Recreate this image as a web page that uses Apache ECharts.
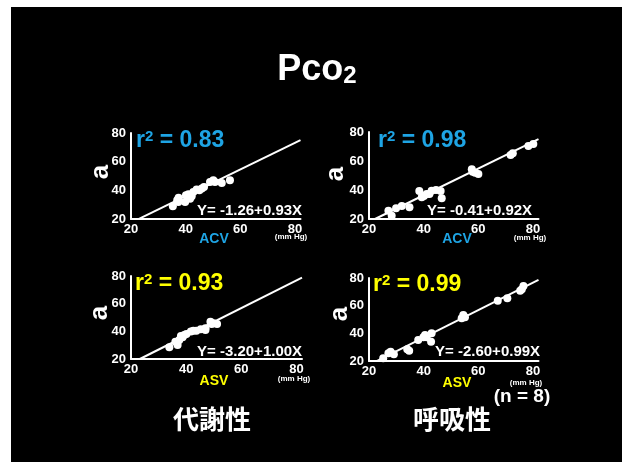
<!DOCTYPE html>
<html>
<head>
<meta charset="utf-8">
<script src="https://cdn.jsdelivr.net/npm/echarts@6/dist/echarts.min.js"></script>
<style>
  html, body { margin: 0; padding: 0; width: 622px; height: 462px; overflow: hidden; background: #fff; }
  #slide { position: absolute; left: 11px; top: 7px; right: 0; bottom: 0; background: #000; }
  #chart { position: absolute; left: 0; top: 0; width: 622px; height: 462px; }
</style>
</head>
<body>
<div id="slide"></div>
<div id="chart"></div>
<script>
// Pco2: arterial value (a) plotted against the ventilator-side reading, mm Hg.
// Panels: metabolic / respiratory cases, each measured on ACV and ASV.
const metabolicAcv = [
  [35.3, 28.9], [36.9, 33.0], [37.4, 34.9], [37.3, 31.9], [39.8, 31.9], [40.1, 36.5],
  [41.0, 37.2], [41.6, 34.2], [42.2, 35.8], [42.8, 38.8], [44.0, 40.5], [45.0, 40.0],
  [45.9, 41.2], [46.7, 42.3], [48.9, 45.8], [50.1, 47.0], [50.7, 45.8], [53.2, 45.1],
  [56.2, 47.0]
];
const respiratoryAcv = [
  [27.1, 25.7], [28.3, 22.3], [29.9, 27.4], [32.0, 29.0], [34.8, 28.1], [38.4, 39.3],
  [39.3, 35.0], [40.1, 35.9], [41.1, 37.2], [42.1, 37.2], [42.9, 39.5], [44.5, 40.0],
  [46.2, 39.3], [46.6, 34.3], [57.6, 54.3], [57.9, 52.6], [58.8, 51.9], [60.0, 51.0],
  [71.8, 64.1], [72.6, 65.3], [78.3, 70.3], [80.1, 71.7]
];
const metabolicAsv = [
  [33.9, 28.5], [36.1, 32.5], [36.9, 30.1], [37.5, 33.7], [38.1, 36.6], [38.7, 35.7],
  [39.3, 37.4], [40.1, 38.1], [41.7, 39.8], [42.6, 40.5], [43.7, 40.5], [45.3, 41.5],
  [47.0, 42.2], [47.0, 41.0], [48.8, 47.0], [49.2, 45.3], [50.0, 45.8], [51.2, 45.3]
];
const respiratoryAsv = [
  [25.2, 22.0], [27.1, 25.6], [27.9, 26.7], [29.1, 24.8], [34.0, 28.5], [34.7, 27.4],
  [38.0, 35.2], [39.9, 37.1], [40.5, 38.8], [41.1, 37.1], [42.9, 40.0], [42.7, 34.0],
  [53.9, 50.9], [54.5, 53.3], [55.1, 51.6], [67.1, 63.6], [70.6, 65.3], [75.3, 70.8],
  [75.9, 71.8], [76.5, 74.2]
];

// Regression fits, Y = intercept + slope * X, drawn between the listed X limits.
const fitIntercept = [-1.26, -0.41, -3.20, -2.60];
const fitSlope = [0.93, 0.92, 1.00, 0.99];
const fitXRange = [[22.9, 82], [22.2, 82], [23.2, 82], [22.8, 82]];
const rSquared = ['0.83', '0.98', '0.93', '0.99'];
const modeNames = ['ACV', 'ACV', 'ASV', 'ASV'];
const groupNames = ['代謝性', '呼吸性'];
const axisTicks = [20, 40, 60, 80];

const panelData = [metabolicAcv, respiratoryAcv, metabolicAsv, respiratoryAsv];

const FONT = '"Liberation Sans", Arial, Helvetica, sans-serif';
const CJK = '"Noto Sans CJK JP", "Noto Sans CJK SC", sans-serif';
const CYAN = '#1ea4e4';
const YELLOW = '#ffff00';
const modeColor = [CYAN, CYAN, YELLOW, YELLOW];

const grids = [
  { left: 131, top: 133, width: 169.5, height: 86 },
  { left: 369, top: 132, width: 169.5, height: 87 },
  { left: 131, top: 276, width: 171, height: 83 },
  { left: 369, top: 278, width: 169.5, height: 83 }
];

const xAxes = grids.map((g, i) => ({
  gridIndex: i, type: 'value', min: axisTicks[0], max: 82, interval: 20,
  axisLine: { show: true, onZero: false, lineStyle: { color: '#fff', width: 2 } },
  axisTick: { show: false }, splitLine: { show: false },
  axisLabel: {
    color: '#fff', fontWeight: 'bold', fontSize: 13, fontFamily: FONT, margin: 4,
    formatter: v => (axisTicks.indexOf(v) >= 0 ? String(v) : '')
  }
}));
const yAxes = grids.map((g, i) => ({
  gridIndex: i, type: 'value', min: axisTicks[0], max: axisTicks[axisTicks.length - 1], interval: 20,
  axisLine: { show: true, onZero: false, lineStyle: { color: '#fff', width: 2 } },
  axisTick: { show: false }, splitLine: { show: false },
  axisLabel: { color: '#fff', fontWeight: 'bold', fontSize: 13, fontFamily: FONT, margin: 5 }
}));

const series = [];
panelData.forEach((pts, i) => {
  const [x0, x1] = fitXRange[i];
  series.push({
    type: 'line', xAxisIndex: i, yAxisIndex: i, clip: false, silent: true,
    symbol: 'none', lineStyle: { color: '#fff', width: 2 }, z: 2,
    data: [[x0, fitIntercept[i] + fitSlope[i] * x0], [x1, fitIntercept[i] + fitSlope[i] * x1]]
  });
  series.push({
    type: 'scatter', xAxisIndex: i, yAxisIndex: i, symbolSize: 8, z: 3,
    itemStyle: { color: '#fff', opacity: 1 }, data: pts
  });
});

function fmt(n) {
  return (n < 0 ? '-' : '') + Math.abs(n).toFixed(2);
}

// Annotation placement for each panel
const rPos = [[136, 141], [378, 141], [135, 284], [373, 285]];
const eqPos = [[197, 211], [427, 211], [197, 352], [435, 352]];
const modePos = [[214, 239], [457, 239], [214, 381], [457, 383]];
const unitPos = [[291, 237], [530, 238], [294, 379], [526, 383]];
const aPos = [[101, 172], [336, 174], [100, 313], [340, 314]];

const graphics = [
  {
    type: 'text', x: 317, y: 70,
    style: {
      text: '{m|Pco}{s|2}', textAlign: 'center', textVerticalAlign: 'middle',
      rich: {
        m: { fontSize: 36, fontWeight: 'bold', fontFamily: FONT, fill: '#fff' },
        s: { fontSize: 24, fontWeight: 'bold', fontFamily: FONT, fill: '#fff', verticalAlign: 'bottom' }
      }
    }
  }
];

grids.forEach((g, i) => {
  graphics.push({
    type: 'text', x: rPos[i][0], y: rPos[i][1],
    style: {
      text: '{m|r}{s|2}{m| = ' + rSquared[i] + '}', textAlign: 'left', textVerticalAlign: 'middle',
      rich: {
        m: { fontSize: 23, fontWeight: 'bold', fontFamily: FONT, fill: modeColor[i] },
        s: { fontSize: 15, fontWeight: 'bold', fontFamily: FONT, fill: modeColor[i], verticalAlign: 'top' }
      }
    }
  });
  graphics.push({
    type: 'text', x: eqPos[i][0], y: eqPos[i][1],
    style: {
      text: 'Y= ' + fmt(fitIntercept[i]) + '+' + fmt(fitSlope[i]) + 'X',
      fill: '#fff', font: 'bold 15px ' + FONT, textAlign: 'left', textVerticalAlign: 'middle'
    }
  });
  graphics.push({
    type: 'text', x: modePos[i][0], y: modePos[i][1],
    style: {
      text: modeNames[i], fill: modeColor[i], font: 'bold 14px ' + FONT,
      textAlign: 'center', textVerticalAlign: 'middle'
    }
  });
  graphics.push({
    type: 'text', x: unitPos[i][0], y: unitPos[i][1],
    style: {
      text: '(mm Hg)', fill: '#fff', font: 'bold 8px ' + FONT,
      textAlign: 'center', textVerticalAlign: 'middle'
    }
  });
  graphics.push({
    type: 'text', x: aPos[i][0], y: aPos[i][1], rotation: Math.PI / 2,
    style: {
      text: 'a', fill: '#fff', font: 'bold 26px ' + FONT,
      textAlign: 'center', textVerticalAlign: 'middle'
    }
  });
});

graphics.push(
  { type: 'text', x: 212, y: 419, style: { text: groupNames[0], fill: '#fff', font: 'bold 26px ' + CJK, textAlign: 'center', textVerticalAlign: 'middle' } },
  { type: 'text', x: 452, y: 419, style: { text: groupNames[1], fill: '#fff', font: 'bold 26px ' + CJK, textAlign: 'center', textVerticalAlign: 'middle' } },
  { type: 'text', x: 522, y: 397, style: { text: '(n = 8)', fill: '#fff', font: 'bold 19px ' + FONT, textAlign: 'center', textVerticalAlign: 'middle' } }
);

const chart = echarts.init(document.getElementById('chart'), null, { renderer: 'canvas' });
chart.setOption({
  backgroundColor: 'transparent',
  animation: false,
  grid: grids,
  xAxis: xAxes,
  yAxis: yAxes,
  series: series,
  graphic: graphics
});
</script>
</body>
</html>
